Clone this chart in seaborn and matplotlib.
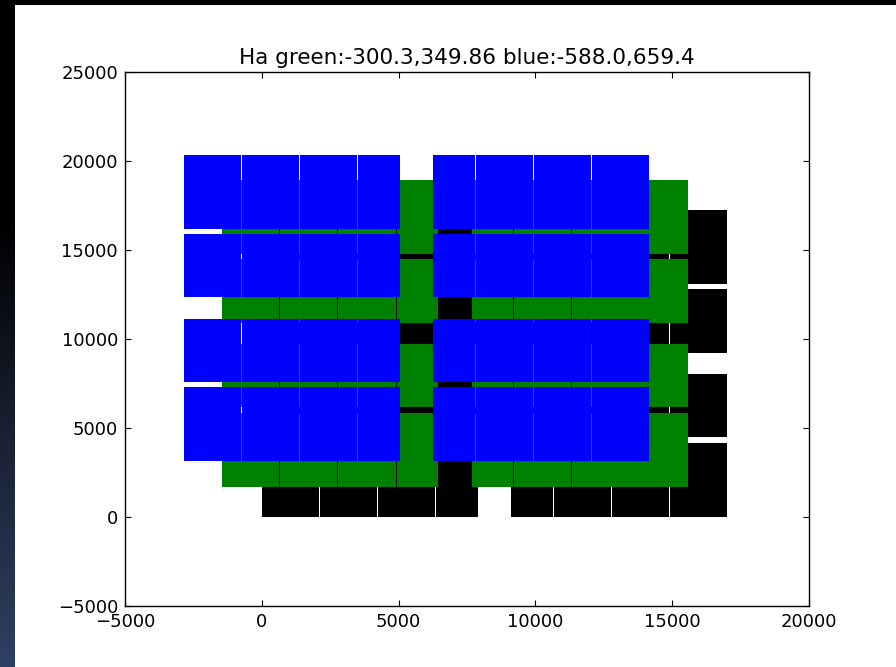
import numpy as np
import pandas as pd
import matplotlib
matplotlib.use("Agg")
import matplotlib.pyplot as plt
from matplotlib.patches import Rectangle
import seaborn as sns

# ---- data (chip geometry, data units) ----
col_left = [0, 2125, 4250, 6375, 9120, 10675, 12800, 14925]
col_width = [2090, 2090, 2090, 1510, 1520, 2090, 2090, 2090]
row_bottom = [0, 4470, 9230, 13080]
row_height = [4160, 3560, 3560, 4160]

layers = ["black", "green", "blue"]
layer_dx = [0, -1450, -2850]
layer_dy = [0, 1690, 3120]
layer_color = ["#000000", "#008000", "#0000ff"]

title = "Ha green:-300.3,349.86 blue:-588.0,659.4"
xticks = [-5000, 0, 5000, 10000, 15000, 20000]
yticks = [-5000, 0, 5000, 10000, 15000, 20000, 25000]

rows = []
for name, dx, dy in zip(layers, layer_dx, layer_dy):
    for cl, cw in zip(col_left, col_width):
        for rb, rh in zip(row_bottom, row_height):
            rows.append(dict(layer=name, x=cl + dx, w=cw, y=rb + dy, h=rh))
chips = pd.DataFrame(rows)

sns.set_style("ticks", {
    "axes.edgecolor": "black",
    "xtick.direction": "in",
    "ytick.direction": "in",
    "xtick.top": True,
    "ytick.right": True,
    "xtick.color": "black",
    "ytick.color": "black",
    "text.color": "black",
})
plt.rcParams["font.family"] = ["DejaVu Sans"]

fig = plt.figure(figsize=(8.96, 6.67), dpi=100, facecolor="white")

# screenshot dark border (left gradient strip + top strip)
strip = fig.add_axes([0, 0, 14 / 896, 1])
grad = np.linspace(0, 1, 256)[:, None]
cmap = matplotlib.colors.LinearSegmentedColormap.from_list(
    "bg", ["#000000", "#000000", "#1a2234", "#2e4062"])
strip.imshow(grad, aspect="auto", cmap=cmap, extent=[0, 1, 1, 0])
strip.set_axis_off()
fig.patches.append(Rectangle((0, 1 - 5 / 667), 1, 5 / 667, transform=fig.transFigure,
                             facecolor="black", edgecolor="none", zorder=0))

ax = fig.add_axes([125 / 896, (667 - 606) / 667, 684 / 896, 534 / 667])
for name, color in zip(layers, layer_color):
    d = chips[chips.layer == name]
    ax.bar(d.x, d.h, width=d.w, bottom=d.y, align="edge",
           color=color, linewidth=0, antialiased=True)

ax.set_xlim(-5000, 20000)
ax.set_ylim(-5000, 25000)
ax.set_xticks(xticks)
ax.set_yticks(yticks)
ax.tick_params(which="major", direction="in", length=4.5, width=0.8,
               labelsize=13, pad=5, top=True, right=True, colors="black")
for s in ax.spines.values():
    s.set_linewidth(1.0)
    s.set_color("black")
ax.set_title(title, fontsize=15.5, pad=6)

fig.savefig("out.png", dpi=100, facecolor="white")
